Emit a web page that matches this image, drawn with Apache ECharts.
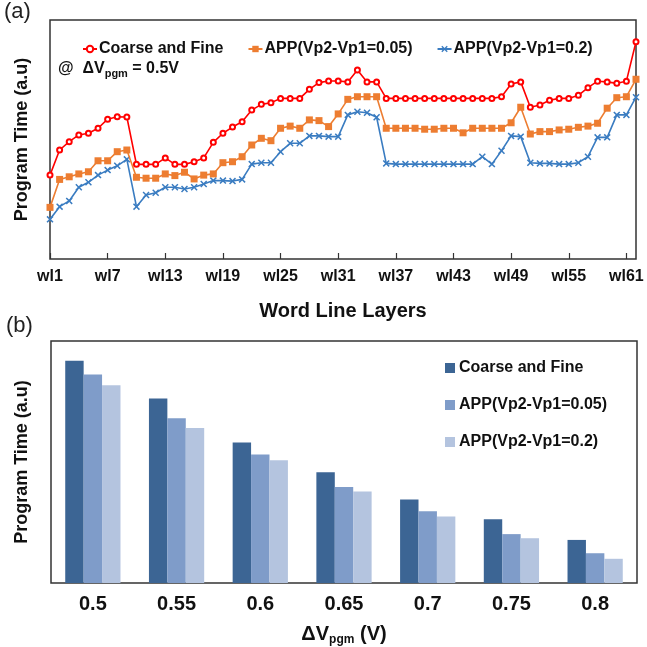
<!DOCTYPE html>
<html>
<head>
<meta charset="utf-8">
<script src="https://cdn.jsdelivr.net/npm/echarts@6.0.0/dist/echarts.min.js"></script>
<style>
html, body { margin: 0; padding: 0; background: #fff; }
#container { width: 647px; height: 647px; }
</style>
</head>
<body>
<div id="container"></div>
<script>
// (a) program time per word line layer, a.u. (0-100)
var wordLines = ['wl1','wl2','wl3','wl4','wl5','wl6','wl7','wl8','wl9','wl10',
	'wl11','wl12','wl13','wl14','wl15','wl16','wl17','wl18','wl19','wl20',
	'wl21','wl22','wl23','wl24','wl25','wl26','wl27','wl28','wl29','wl30',
	'wl31','wl32','wl33','wl34','wl35','wl36','wl37','wl38','wl39','wl40',
	'wl41','wl42','wl43','wl44','wl45','wl46','wl47','wl48','wl49','wl50',
	'wl51','wl52','wl53','wl54','wl55','wl56','wl57','wl58','wl59','wl60',
	'wl61','wl62'];

var coarseFine = [35.1, 45.6, 49.1, 51.9, 52.6, 54.7, 58.5, 59.5, 59.4,
	39.6, 39.6, 39.6, 42.3, 39.6, 39.6, 40.7, 42.3, 48.8, 52.6, 55.2,
	57.4, 62.3, 64.7, 65.4, 67.2, 67.2, 67.2, 71.0, 73.8, 74.5, 74.5, 74.1, 79.1, 74.1, 74.1,
	67.2, 67.2, 67.2, 67.2, 67.2, 67.2, 67.2, 67.2, 67.2, 67.2, 67.2, 67.2,
	67.9, 73.2, 74.1, 63.5, 64.4, 66.4, 67.2, 67.2, 68.5, 71.7, 74.4, 74.1, 73.5, 74.4, 90.9];

var app005 = [21.6, 33.3, 34.4, 35.6, 36.5, 41.1, 41.1, 44.9, 45.6, 34.2,
	33.8, 33.8, 35.6, 34.9, 36.3, 33.5, 35.1, 35.6, 40.3, 40.7,
	42.8, 47.7, 50.5, 49.5, 54.7, 55.6, 54.7, 58.2, 57.9, 55.4, 60.7, 66.8, 67.9, 67.9, 67.9,
	54.7, 54.7, 54.7, 54.7,
	54.3, 54.3, 54.7, 54.7, 52.8, 54.7, 54.7, 54.7, 54.7, 57.0, 63.5, 52.3,
	53.3, 53.3, 54.0, 54.3, 55.1, 55.6, 56.8, 63.1, 67.5, 67.9, 75.2];

var app02 = [16.6, 21.9, 24.3, 30.0, 32.1, 35.1, 37.2, 39.0, 41.7, 21.9,
	26.8, 27.7, 30.0, 30.0, 29.3, 30.0, 31.4, 32.8, 32.8, 32.6,
	33.3, 39.7, 40.3, 40.3, 44.9, 48.4, 48.4, 51.5, 51.5, 51.2, 51.2, 60.3, 61.6, 61.2, 59.3,
	40.0, 39.7, 39.7, 39.7,
	39.7, 39.7, 39.7, 39.7, 39.7, 39.7, 42.8, 39.7, 45.3, 51.5, 51.2, 40.3,
	40.0, 40.0, 39.7, 39.7, 40.3, 42.8, 50.9, 50.9, 60.3, 60.3, 67.7];

// (b) program time vs delta Vpgm, a.u. (0-100)
var vpgmSteps = ['0.5', '0.55', '0.6', '0.65', '0.7', '0.75', '0.8'];
var barCoarseFine = [91.8, 76.2, 58.1, 45.8, 34.5, 26.3, 17.8];
var barApp005 = [86.2, 68.1, 53.1, 39.7, 29.6, 20.2, 12.3];
var barApp02 = [81.7, 64.0, 50.7, 37.8, 27.5, 18.5, 10.0];

var seriesNames = ['Coarse and Fine', 'APP(Vp2-Vp1=0.05)', 'APP(Vp2-Vp1=0.2)'];
var lineColors = ['#ff0000', '#ed7d31', '#3a7cc1'];
var barColors = ['#3c6594', '#7f9cc9', '#b4c4df'];

var FONT = 'Liberation Sans, Arial, sans-serif';
var INK = '#111';
var FRAME = '#333';
var crossPath = 'path://M0,1.5L1.5,0L5,3.5L8.5,0L10,1.5L6.5,5L10,8.5L8.5,10L5,6.5L1.5,10L0,8.5L3.5,5Z';

var dom = document.getElementById('container');
var myChart = echarts.init(dom, null, { renderer: 'canvas' });

var option = {
	backgroundColor: '#fff',
	animation: false,
	textStyle: { fontFamily: FONT },
	grid: [{
		left: 50, top: 20, width: 586, height: 239,
		show: true, borderColor: FRAME, borderWidth: 1.5, backgroundColor: 'transparent'
	}, {
		left: 51, top: 341, width: 586, height: 243,
		show: true, borderColor: FRAME, borderWidth: 1.5, backgroundColor: 'transparent'
	}],
	legend: [{
		data: seriesNames,
		left: 77, top: 36,
		itemGap: 24, itemWidth: 14, itemHeight: 8,
		textStyle: { fontFamily: FONT, fontWeight: 'bold', fontSize: 16, color: INK, padding: [0, 0, 0, -3] }
	}, {
		data: seriesNames.map(function(n, i) {
			return { name: n, icon: 'rect', itemStyle: { color: barColors[i] } };
		}),
		orient: 'vertical',
		left: 440, top: 355,
		itemGap: 21, itemWidth: 10, itemHeight: 10,
		textStyle: { fontFamily: FONT, fontWeight: 'bold', fontSize: 16, color: INK, padding: [0, 0, 0, -1] }
	}],
	xAxis: [{
		gridIndex: 0,
		type: 'category',
		data: wordLines,
		boundaryGap: false,
		name: 'Word Line Layers',
		nameLocation: 'middle',
		nameGap: 42,
		nameTextStyle: { fontFamily: FONT, fontWeight: 'bold', fontSize: 20, color: INK },
		axisLine: { show: false },
		axisTick: {
			show: true, inside: true, length: 6,
			interval: function(index) { return index % 6 === 0; },
			lineStyle: { color: FRAME, width: 1.2 }
		},
		axisLabel: {
			interval: function(index) { return index % 6 === 0; },
			margin: 10, fontFamily: FONT, fontWeight: 'bold', fontSize: 16, color: INK
		},
		splitLine: { show: false }
	}, {
		gridIndex: 1,
		type: 'category',
		data: vpgmSteps,
		name: 'ΔV{sub|pgm} (V)',
		nameLocation: 'middle',
		nameGap: 40,
		nameTextStyle: {
			fontFamily: FONT, fontWeight: 'bold', fontSize: 20, color: INK,
			rich: { sub: { fontFamily: FONT, fontWeight: 'bold', fontSize: 12, color: INK, padding: [11, 0, 0, 0] } }
		},
		axisLine: { show: false },
		axisTick: { show: false },
		axisLabel: { margin: 11, fontFamily: FONT, fontWeight: 'bold', fontSize: 20, color: INK },
		splitLine: { show: false }
	}],
	yAxis: [{
		gridIndex: 0,
		type: 'value',
		min: 0, max: 100,
		name: 'Program Time (a.u)',
		nameLocation: 'middle',
		nameGap: 19,
		nameTextStyle: { fontFamily: FONT, fontWeight: 'bold', fontSize: 18, color: INK },
		axisLine: { show: false },
		axisTick: { show: false },
		axisLabel: { show: false },
		splitLine: { show: false }
	}, {
		gridIndex: 1,
		type: 'value',
		min: 0, max: 100,
		name: 'Program Time (a.u)',
		nameLocation: 'middle',
		nameGap: 20,
		nameTextStyle: { fontFamily: FONT, fontWeight: 'bold', fontSize: 18, color: INK },
		axisLine: { show: false },
		axisTick: { show: false },
		axisLabel: { show: false },
		splitLine: { show: false }
	}],
	graphic: [{
		type: 'text', left: 4, top: 1,
		style: { text: '(a)', fontFamily: FONT, fontSize: 22, fill: '#222' }
	}, {
		type: 'text', left: 6, top: 315,
		style: { text: '(b)', fontFamily: FONT, fontSize: 22, fill: '#222' }
	}, {
		type: 'text', left: 58, top: 61,
		style: {
			text: '@  ΔV{sub|pgm} = 0.5V',
			fontFamily: FONT, fontWeight: 'bold', fontSize: 16, fill: INK,
			rich: { sub: { fontFamily: FONT, fontWeight: 'bold', fontSize: 11, fill: INK, padding: [9, 0, 0, 0] } }
		}
	}],
	series: [{
		name: seriesNames[0],
		type: 'line',
		xAxisIndex: 0, yAxisIndex: 0,
		data: coarseFine,
		symbol: 'emptyCircle',
		symbolSize: 5,
		showAllSymbol: true,
		lineStyle: { color: lineColors[0], width: 1.6 },
		itemStyle: { color: lineColors[0], borderWidth: 1.5 },
		z: 4
	}, {
		name: seriesNames[1],
		type: 'line',
		xAxisIndex: 0, yAxisIndex: 0,
		data: app005,
		symbol: 'rect',
		symbolSize: 7,
		showAllSymbol: true,
		lineStyle: { color: lineColors[1], width: 1.6 },
		itemStyle: { color: lineColors[1] },
		z: 3
	}, {
		name: seriesNames[2],
		type: 'line',
		xAxisIndex: 0, yAxisIndex: 0,
		data: app02,
		symbol: crossPath,
		symbolSize: 7,
		showAllSymbol: true,
		lineStyle: { color: lineColors[2], width: 1.6 },
		itemStyle: { color: lineColors[2] },
		z: 2
	}, {
		name: seriesNames[0],
		type: 'bar',
		xAxisIndex: 1, yAxisIndex: 1,
		data: barCoarseFine,
		barGap: '0%',
		barCategoryGap: '34%',
		itemStyle: { color: barColors[0] }
	}, {
		name: seriesNames[1],
		type: 'bar',
		xAxisIndex: 1, yAxisIndex: 1,
		data: barApp005,
		barGap: '0%',
		barCategoryGap: '34%',
		itemStyle: { color: barColors[1] }
	}, {
		name: seriesNames[2],
		type: 'bar',
		xAxisIndex: 1, yAxisIndex: 1,
		data: barApp02,
		barGap: '0%',
		barCategoryGap: '34%',
		itemStyle: { color: barColors[2] }
	}]
};

myChart.setOption(option);

window.addEventListener('resize', function() {
	myChart.resize();
});
</script>
</body>
</html>
